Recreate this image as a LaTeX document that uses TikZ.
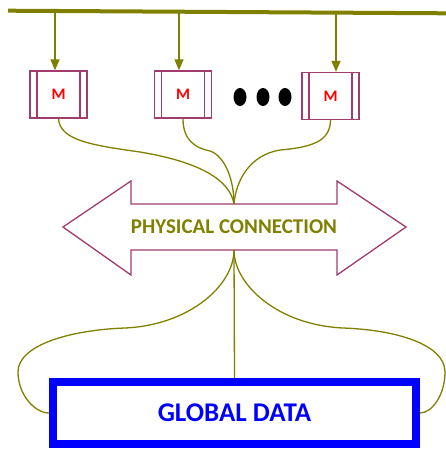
\documentclass[tikz,border=0pt]{standalone}
\usepackage{fontspec}
\setmainfont{Carlito}
\usetikzlibrary{arrows.meta,calc}

\definecolor{busolive}{RGB}{128,128,0}
\definecolor{mauve}{RGB}{160,60,110}
\definecolor{gdblue}{RGB}{0,0,255}

\begin{document}
\begin{tikzpicture}[x=1pt, y=-1pt, >={Triangle[width=9pt,length=11pt]}]
  \tikzset{
    module/.style={draw=mauve, line width=1.3pt, minimum width=57pt, minimum height=47pt,
      inner sep=0pt, font=\fontsize{16}{18}\selectfont\bfseries, text=red,
      path picture={
        \draw[mauve, line width=1.1pt]
          ([xshift=7pt]path picture bounding box.north west) -- ([xshift=7pt]path picture bounding box.south west)
          ([xshift=-7pt]path picture bounding box.north east) -- ([xshift=-7pt]path picture bounding box.south east);
      }},
    wire/.style={busolive, line width=1.3pt}
  }
  \useasboundingbox (0,0) rectangle (446,450);

  % Bus
  \coordinate (busL) at (8,10.7);
  \coordinate (busR) at (446,13.3);
  \draw[busolive, line width=4pt] (busL) -- (busR);

  % Modules
  \node[module] (m1) at (58.5,94.5) {M};
  \node[module] (m2) at (183,94.5) {M};
  \node[module] (m3) at (330.5,96) {M};

  % Arrows from the bus
  \coordinate (b1) at (55,11);
  \coordinate (b2) at (179,11.6);
  \coordinate (b3) at (336,12.6);
  \draw[->, busolive, line width=1.5pt] (b1) -- (b1 |- m1.north);
  \draw[->, busolive, line width=1.5pt] (b2) -- (b2 |- m2.north);
  \draw[->, busolive, line width=1.5pt] (b3) -- (b3 |- m3.north);

  % Dots
  \fill[black] (240,97) ellipse (6.5 and 9);
  \fill[black] (263,97) ellipse (6.5 and 9);
  \fill[black] (285,97) ellipse (6.5 and 9);

  % Physical connection (double arrow)
  \node[minimum width=204pt, minimum height=46pt, inner sep=0pt, outer sep=0pt,
        text=busolive, font=\fontsize{21}{24}\selectfont\bfseries] (conn) at (234,227) {PHYSICAL CONNECTION};
  \draw[mauve, line width=1.3pt, line join=miter]
    (conn.north west) -- ++(0,-23) -- ($(conn.west)+(-68,0)$) -- ($(conn.south west)+(0,25)$)
    -- (conn.south west) -- (conn.south east) -- ++(0,25) -- ($(conn.east)+(69,0)$)
    -- ($(conn.north east)+(0,-23)$) -- (conn.north east) -- cycle;

  % Global data
  \node[draw=gdblue, line width=8pt, minimum width=363pt, minimum height=62pt,
        text=gdblue, font=\fontsize{27}{30}\selectfont\bfseries] (gd) at (234.5,413) {GLOBAL DATA};

  % Wires from the modules
  \draw[wire] (m1.south) .. controls (60,140) and (90,145) .. (140,152)
    .. controls (200,162) and (230,180) .. (conn.north);
  \draw[wire] (m2.south) .. controls (183,140) and (195,148) .. (210,151)
    .. controls (225,156) and (234,180) .. (conn.north);
  \draw[wire] (m3.south) .. controls (330,140) and (315,147) .. (280,150)
    .. controls (250,155) and (236,180) .. (conn.north);

  % Wires to global data
  \draw[wire] (conn.south) -- (gd.north);
  \draw[wire] (conn.south) .. controls (234,285) and (190,325) .. (125,328)
    .. controls (70,330) and (18,345) .. (18,372) .. controls (18,395) and (35,413) .. (gd.west);
  \draw[wire] (conn.south) .. controls (234,285) and (278,325) .. (343,328)
    .. controls (398,330) and (445,345) .. (445,372) .. controls (445,395) and (432,413) .. (gd.east);
\end{tikzpicture}
\end{document}
